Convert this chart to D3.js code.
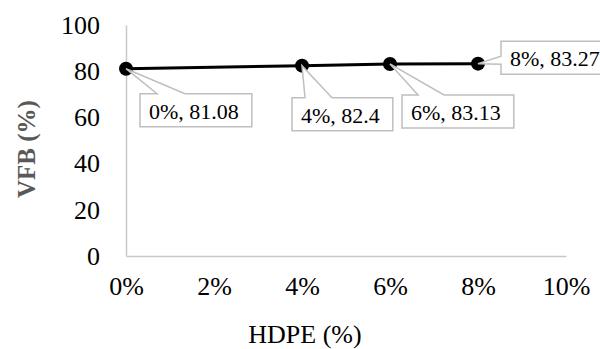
<!DOCTYPE html>
<html>
<head>
<meta charset="utf-8">
<script src="https://cdn.jsdelivr.net/npm/d3@7"></script>
<style>
  html, body { margin: 0; padding: 0; background: #fff; }
  svg { display: block; }
  text { font-family: "Liberation Serif", "Times New Roman", serif; }
</style>
</head>
<body>
<svg id="chart" width="600" height="349"></svg>
<script>
// HDPE content (%) and the resulting VFB (%)
const hdpe = [0, 4, 6, 8];
const vfb = [81.08, 82.4, 83.13, 83.27];
const xTicks = [0, 2, 4, 6, 8, 10];
const yTicks = [0, 20, 40, 60, 80, 100];
const xTitle = "HDPE (%)";
const yTitle = "VFB (%)";

// where each callout box sits relative to its point, and which side the pointer comes from
const calloutPlacement = [
  { dx: 14, dy: 25, side: "top", b1: 17, b2: 45 },
  { dx: -10, dy: 32, side: "top", b1: 13, b2: 40 },
  { dx: 12, dy: 31, side: "top", b1: 16, b2: 42 },
  { dx: 23, dy: -22.5, side: "left", b1: 15, b2: 23 }
];

const svg = d3.select("#chart");
const x = d3.scaleLinear().domain([0, 10]).range([126, 566]);
const y = d3.scaleLinear().domain([0, 100]).range([256, 25]);
const axisColor = "#c8c8c8";

// axes
const xAxis = svg.append("g")
  .attr("transform", `translate(0,${y(0)})`)
  .call(d3.axisBottom(x).tickValues(xTicks).tickSize(0).tickPadding(24)
    .tickFormat(d => d + "%"));
xAxis.select(".domain").attr("stroke", axisColor).attr("stroke-width", 1.5);
xAxis.selectAll("text").attr("font-size", 26).attr("fill", "#000")
  .attr("font-family", "Liberation Serif").attr("dy", "0.71em").attr("y", 21);

const yAxis = svg.append("g")
  .attr("transform", `translate(${x(0)},0)`)
  .call(d3.axisLeft(y).tickValues(yTicks).tickSize(0).tickPadding(26)
    .tickFormat(d3.format("d")));
yAxis.select(".domain").attr("stroke", axisColor).attr("stroke-width", 1.5);
yAxis.selectAll("text").attr("font-size", 26).attr("fill", "#000")
  .attr("font-family", "Liberation Serif");

// axis titles
svg.append("text")
  .attr("x", 305).attr("y", 343)
  .attr("text-anchor", "middle")
  .attr("font-size", 26).attr("fill", "#000")
  .text(xTitle);

svg.append("text")
  .attr("transform", "translate(35,149) rotate(-90)")
  .attr("text-anchor", "middle")
  .attr("font-size", 25).attr("font-weight", "bold").attr("fill", "#595959")
  .text(yTitle);

// series line and markers
const pts = hdpe.map((h, i) => ({ h, v: vfb[i] }));
svg.append("path")
  .datum(pts)
  .attr("fill", "none")
  .attr("stroke", "#000")
  .attr("stroke-width", 3)
  .attr("d", d3.line().x(d => x(d.h)).y(d => y(d.v)));

svg.selectAll("circle.mk")
  .data(pts)
  .join("circle")
  .attr("class", "mk")
  .attr("cx", d => x(d.h))
  .attr("cy", d => y(d.v))
  .attr("r", 7)
  .attr("fill", "#000");

// data-label callouts
const labelG = svg.append("g");
pts.forEach((d, i) => {
  const p = calloutPlacement[i];
  const px = x(d.h), py = y(d.v);
  const left = px + p.dx, top = py + p.dy;
  const g = labelG.append("g");
  const shape = g.append("path");
  const t = g.append("text")
    .attr("font-size", 22).attr("fill", "#000")
    .attr("dominant-baseline", "central")
    .text(`${d.h}%, ${d.v}`);
  const w = t.node().getComputedTextLength() + 22;
  const h = 33;
  t.attr("x", left + 9).attr("y", top + h / 2 + 1);
  const right = left + w, bottom = top + h;
  let dPath;
  if (p.side === "top") {
    dPath = `M${left},${top}L${left + p.b1},${top}L${px},${py}L${left + p.b2},${top}` +
            `L${right},${top}L${right},${bottom}L${left},${bottom}Z`;
  } else {
    dPath = `M${left},${top}L${right},${top}L${right},${bottom}L${left},${bottom}` +
            `L${left},${top + p.b2}L${px},${py}L${left},${top + p.b1}Z`;
  }
  shape.attr("d", dPath).attr("fill", "#fff")
    .attr("stroke", "#bfbfbf").attr("stroke-width", 1.5)
    .attr("stroke-linejoin", "miter");
});
</script>
</body>
</html>
